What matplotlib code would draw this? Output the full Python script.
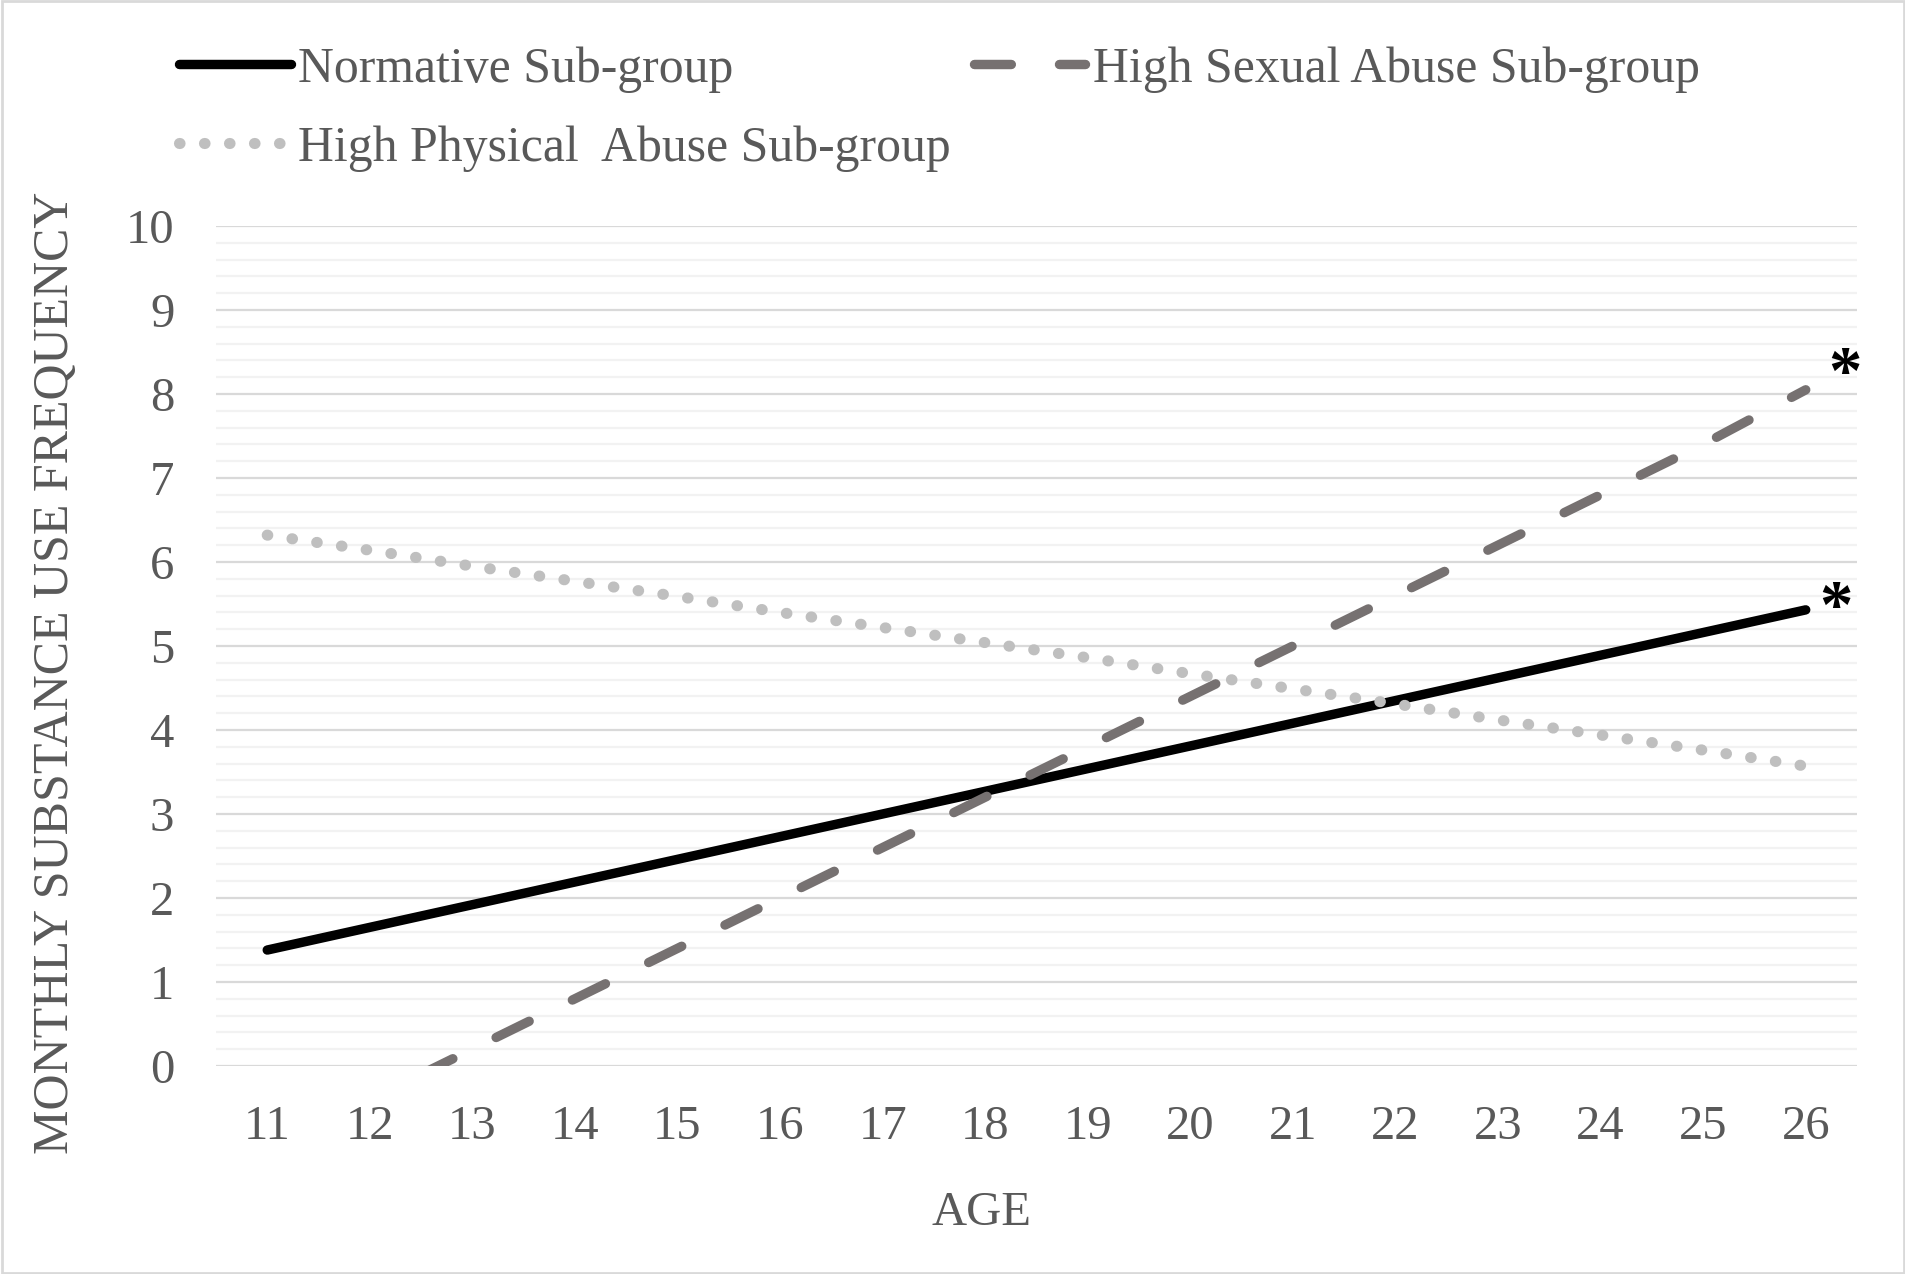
import numpy as np
import matplotlib.pyplot as plt
from matplotlib.patches import Rectangle

plt.rcParams['font.family'] = ['Liberation Serif', 'DejaVu Serif']

ages = [11, 12, 13, 14, 15, 16, 17, 18, 19, 20, 21, 22, 23, 24, 25, 26]
normative = [1.38, 1.65, 1.92, 2.19, 2.46, 2.73, 3.00, 3.27, 3.54, 3.81,
             4.08, 4.35, 4.62, 4.89, 5.16, 5.43]
sexual = [-1.0, -0.4, 0.2, 0.8, 1.4, 2.0, 2.6, 3.2, 3.8, 4.4,
          5.0, 5.6, 6.2, 6.8, 7.4, 8.05]
physical = [6.32, 6.14, 5.95, 5.77, 5.59, 5.40, 5.22, 5.04, 4.86, 4.67,
            4.49, 4.31, 4.12, 3.94, 3.76, 3.57]
labels = ['Normative Sub-group', 'High Sexual Abuse Sub-group',
          'High Physical  Abuse Sub-group']

txt_col = '#595959'

fig = plt.figure(figsize=(19.06, 12.74), dpi=100)
ax = fig.add_axes([0.1133, 0.1633, 0.8610, 0.6593])

lw = 6.8
l1, = ax.plot(ages, normative, color='black', lw=lw, solid_capstyle='round',
              label=labels[0])
l2, = ax.plot(ages, sexual, color='#767171', lw=lw, dashes=(3.9, 5.1),
              dash_capstyle='round', label=labels[1])
l3, = ax.plot(ages, physical, color='#bfbfbf', lw=8, dashes=(0.05, 2.2),
              dash_capstyle='round', label=labels[2])

ax.set_xlim(10.5, 26.5)
ax.set_ylim(0, 10)
ax.set_xticks(ages)
ax.set_yticks(range(0, 11))
ax.set_yticks(np.arange(0, 10, 0.2), minor=True)
ax.grid(axis='y', which='major', color='#d9d9d9', lw=1.6)
ax.grid(axis='y', which='minor', color='#f2f2f2', lw=1.6)
ax.set_axisbelow(True)
for s in ax.spines.values():
    s.set_visible(False)
ax.tick_params(which='both', length=0, labelsize=35, labelcolor=txt_col)
ax.tick_params(axis='x', pad=28)
ax.tick_params(axis='y', pad=30)

# significance markers
ax.text(26.38, 8.22, '*', fontsize=48, fontweight='bold', ha='center', va='center', color='black')
ax.text(26.29, 5.43, '*', fontsize=48, fontweight='bold', ha='center', va='center', color='black')

fig.text(0.515, 0.048, 'AGE', fontsize=35, color=txt_col, ha='center', va='center')
fig.text(0.029, 0.472, 'MONTHLY SUBSTANCE USE FREQUENCY', fontsize=36,
         color=txt_col, ha='center', va='center', rotation=90)

leg = fig.legend([l1, l3, l2], [labels[0], labels[2], labels[1]], ncol=2,
                 loc='upper left', bbox_to_anchor=(0.0705, 0.999),
                 frameon=False, fontsize=35.8, handlelength=2.25,
                 handletextpad=0.15, columnspacing=0.45, labelspacing=0.66)
for t in leg.get_texts():
    t.set_color(txt_col)

fig.patches.append(Rectangle((0.001, 0.001), 0.998, 0.998, transform=fig.transFigure,
                             fill=False, edgecolor='#d9d9d9', lw=2))

plt.savefig('out.png', dpi=100)
